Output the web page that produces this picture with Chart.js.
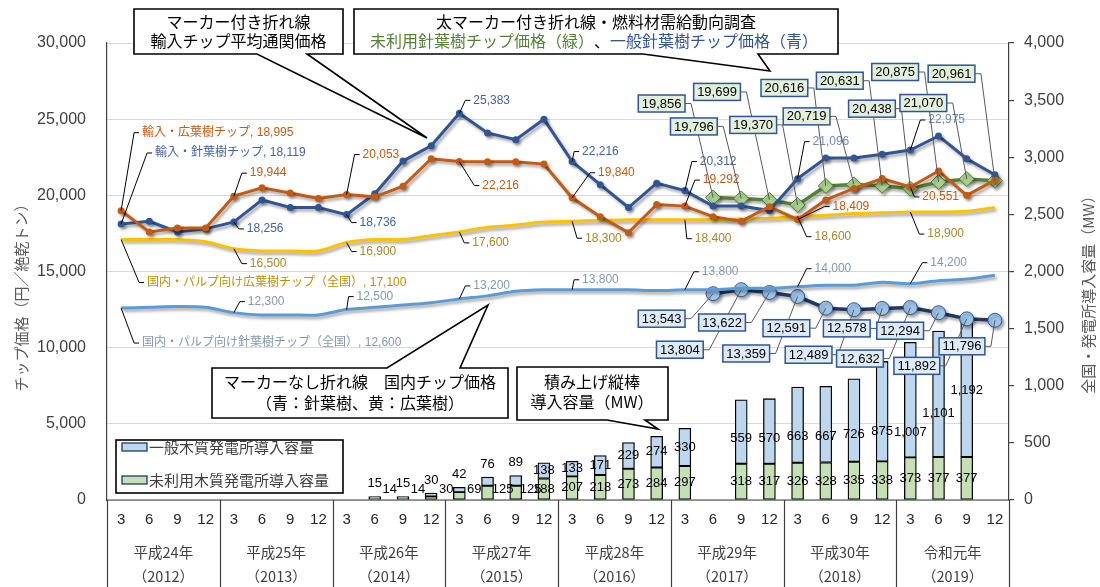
<!DOCTYPE html>
<html><head><meta charset="utf-8">
<script src="https://cdn.jsdelivr.net/npm/chart.js@4.4.0/dist/chart.umd.min.js"></script>
<style>html,body{margin:0;padding:0;background:#fff;}#wrap{width:1100px;height:587px;position:relative;}</style>
</head><body><div id="wrap"><canvas id="c" width="1100" height="587"></canvas></div>
<script>
// ---------------- data ----------------
const monthLabels = ['3','6','9','12','3','6','9','12','3','6','9','12','3','6','9','12','3','6','9','12','3','6','9','12','3','6','9','12','3','6','9','12'];
const yearLabels = ['平成24年','平成25年','平成26年','平成27年','平成28年','平成29年','平成30年','令和元年'];
const yearWestern = ['（2012）','（2013）','（2014）','（2015）','（2016）','（2017）','（2018）','（2019）'];
const leftTicks = [0,5000,10000,15000,20000,25000,30000];
const rightTicks = [0,500,1000,1500,2000,2500,3000,3500,4000];

const importHardwood = [18995,17600,17850,17850,19944,20500,20150,19800,20053,19900,20600,22400,22216,22200,22200,22050,19840,18600,17550,19400,19292,18600,18300,19250,18409,19700,20450,21100,20551,21600,20000,21000];
const importSoftwood = [18119,18300,17600,17800,18256,19700,19200,19200,18736,20100,22250,23250,25383,24100,23650,25000,22216,20700,19200,20800,20312,19300,19300,19000,21096,22450,22450,22700,22975,23900,22400,21350];
const domesticHardwood = [17100,17100,17100,16950,16500,16350,16350,16350,16900,17100,17100,17350,17600,17900,18050,18250,18300,18350,18400,18400,18400,18400,18450,18500,18600,18700,18800,18850,18900,18900,18950,19200];
const domesticSoftwood = [12600,12650,12700,12650,12300,12150,12150,12150,12500,12650,12800,12950,13200,13400,13700,13800,13800,13800,13800,13750,13800,13800,13900,13900,14000,14100,14100,14300,14200,14400,14500,14750];
const unusedSoftwoodPrice = [null,null,null,null,null,null,null,null,null,null,null,null,null,null,null,null,null,null,null,null,null,19856,19796,19699,19370,20616,20719,20631,20438,20875,21070,20961];
const generalSoftwoodPrice = [null,null,null,null,null,null,null,null,null,null,null,null,null,null,null,null,null,null,null,null,null,13543,13804,13622,13359,12591,12489,12578,12632,12294,11892,11796];
const capUnused = [null,null,null,null,null,null,null,null,null,14,14,30,69,125,125,188,207,218,273,284,297,null,318,317,326,328,335,338,373,377,377,null];
const capGeneral = [null,null,null,null,null,null,null,null,null,15,15,30,42,76,89,138,133,171,229,274,330,null,559,570,663,667,726,875,1007,1101,1192,null];

// ---------------- layout / style ----------------
const JP = '"Noto Sans CJK JP","Noto Sans",sans-serif';
const NUM = '"Liberation Sans","Noto Sans CJK JP",sans-serif';
const C = {orange:'#c55a11', blue:'#2f5597', yellow:'#ffc000', lblue:'#5b9bd5', green:'#548235', navy:'#1f3864'};
const fmt = v => v.toLocaleString('en-US');

// text-anchor offsets (px) from the labelled point
const lineLabels = [
 {ds:0,i:0,dx:21,dy:-78,name:'輸入・広葉樹チップ',col:'#c55a11'},
 {ds:0,i:4,dx:16,dy:-23,col:'#c55a11'},{ds:0,i:8,dx:16,dy:-40,col:'#c55a11'},{ds:0,i:12,dx:23,dy:24,col:'#c55a11'},
 {ds:0,i:16,dx:26,dy:-25,col:'#c55a11'},{ds:0,i:20,dx:18,dy:-26,col:'#c55a11'},{ds:0,i:24,dx:35,dy:-13,col:'#c55a11'},{ds:0,i:28,dx:12,dy:10,col:'#c55a11'},
 {ds:1,i:0,dx:34,dy:-71,name:'輸入・針葉樹チップ',col:'#44649f'},
 {ds:1,i:4,dx:13,dy:7,col:'#44649f'},{ds:1,i:8,dx:13,dy:8,col:'#44649f'},{ds:1,i:12,dx:14,dy:-13,col:'#44649f'},
 {ds:1,i:16,dx:10,dy:-10,col:'#44649f'},{ds:1,i:20,dx:15,dy:-29,col:'#44649f'},{ds:1,i:24,dx:15,dy:-37,col:'#6f88b8'},{ds:1,i:28,dx:18,dy:-30,col:'#6f88b8'},
 {ds:2,i:0,dx:26,dy:43,name:'国内・パルプ向け広葉樹チップ（全国）',col:'#bf9000'},
 {ds:2,i:4,dx:16,dy:15,col:'#a8862a'},{ds:2,i:8,dx:13,dy:9,col:'#a8862a'},{ds:2,i:12,dx:13,dy:11,col:'#a8862a'},
 {ds:2,i:16,dx:13,dy:17,col:'#a8862a'},{ds:2,i:20,dx:10,dy:19,col:'#a8862a'},{ds:2,i:24,dx:17,dy:20,col:'#a8862a'},{ds:2,i:28,dx:17,dy:22,col:'#a8862a'},
 {ds:3,i:0,dx:21,dy:35,name:'国内・パルプ向け針葉樹チップ（全国）',col:'#8497b0'},
 {ds:3,i:4,dx:14,dy:-11,col:'#8497b0'},{ds:3,i:8,dx:10,dy:-13,col:'#8497b0'},{ds:3,i:12,dx:14,dy:-13,col:'#8497b0'},
 {ds:3,i:16,dx:10,dy:-10,col:'#8497b0'},{ds:3,i:20,dx:17,dy:-18,col:'#8497b0'},{ds:3,i:24,dx:17,dy:-18,col:'#8497b0'},{ds:3,i:28,dx:20,dy:-21,col:'#8497b0'}
];
// box label offsets: [box right edge - x, box centre - y]
const greenBoxes = {21:[-28,-94],22:[-24,-72],23:[-29,-108],24:[-21,-80],25:[-18,-98],26:[-24,-68],27:[-19,-105],28:[-15,-80],29:[-20,-110],30:[-20,-76],31:[-20,-107]};
const navyBoxes = {21:[-28,25],22:[-38,60],23:[-24,30],24:[-28,57],25:[-16,20],26:[-22,45],27:[-12,20],28:[-27,51],29:[-15,18],30:[-27,47],31:[-10,26]};
// label centre (MW) for moved general-capacity labels
const generalLabelAt = {22:535,23:535,24:553,25:553,26:570,27:596,28:588,29:762,30:962};

function callout(ctx, x1,y1,x2,y2, side, b1,b2, tx,ty){
  ctx.save();
  ctx.beginPath();
  if(side==='bottom'){
    ctx.moveTo(x1,y1);ctx.lineTo(x2,y1);ctx.lineTo(x2,y2);ctx.lineTo(b2,y2);ctx.lineTo(tx,ty);ctx.lineTo(b1,y2);ctx.lineTo(x1,y2);
  } else {
    ctx.moveTo(x1,y1);ctx.lineTo(b1,y1);ctx.lineTo(tx,ty);ctx.lineTo(b2,y1);ctx.lineTo(x2,y1);ctx.lineTo(x2,y2);ctx.lineTo(x1,y2);
  }
  ctx.closePath();
  ctx.fillStyle='#fff';ctx.fill();
  ctx.strokeStyle='#000';ctx.lineWidth=1.6;ctx.stroke();
  ctx.restore();
}
function centeredRuns(ctx, runs, cx, y){
  let w=0; runs.forEach(r=>{w+=ctx.measureText(r[0]).width;});
  let x=cx-w/2; ctx.textAlign='left';
  runs.forEach(r=>{ctx.fillStyle=r[1];ctx.fillText(r[0],x,y);x+=ctx.measureText(r[0]).width;});
}

const shadowPlugin = {
  id:'shadow',
  beforeDatasetDraw(chart,args){ if(args.meta.type==='line'){const c=chart.ctx;c.save();c.shadowColor='rgba(0,0,0,0.35)';c.shadowBlur=3;c.shadowOffsetX=2;c.shadowOffsetY=2.5;} },
  afterDatasetDraw(chart,args){ if(args.meta.type==='line'){chart.ctx.restore();} }
};

const decoPlugin = {
  id:'deco',
  afterDatasetsDraw(chart){
    const ctx=chart.ctx, ca=chart.chartArea, xs=chart.scales.x, y2=chart.scales.y2;
    ctx.save();
    // bar labels
    const mg=chart.getDatasetMeta(6), mb=chart.getDatasetMeta(7);
    ctx.font='13px '+NUM; ctx.fillStyle='#000'; ctx.textBaseline='middle'; ctx.textAlign='center';
    capUnused.forEach((v,i)=>{
      if(v==null) return;
      const g=mg.data[i], b=mb.data[i];
      const gh=g.base-g.y;
      if(gh<14) ctx.fillText(fmt(v), g.x+15, g.base-10); else ctx.fillText(fmt(v), g.x, (g.y+g.base)/2);
      const bv=capGeneral[i]; const bh=b.base-b.y;
      let by;
      if(generalLabelAt[i]!==undefined) by=y2.getPixelForValue(generalLabelAt[i]);
      else if(bh<14) by=b.y-13; else by=(b.y+b.base)/2;
      ctx.fillText(fmt(bv), b.x, by);
    });
    // line labels
    ctx.textAlign='left'; ctx.lineWidth=1; ctx.strokeStyle='#000';
    lineLabels.forEach(L=>{
      const p=chart.getDatasetMeta(L.ds).data[L.i]; const v=chart.data.datasets[L.ds].data[L.i];
      const tx=p.x+L.dx, ty=p.y+L.dy;
      ctx.beginPath();ctx.moveTo(p.x,p.y);ctx.lineTo(tx-8,ty);ctx.lineTo(tx-3,ty);ctx.stroke();
      ctx.font='12px '+NUM; ctx.fillStyle=L.col;
      ctx.fillText((L.name?L.name+', ':'')+fmt(v), tx, ty);
    });
    // box labels
    const boxSets=[[4,greenBoxes,'#e2efda'],[5,navyBoxes,'#deebf7']];
    ctx.font='13px '+NUM;
    boxSets.forEach(([ds,lay,fill])=>{
      const meta=chart.getDatasetMeta(ds), data=chart.data.datasets[ds].data;
      Object.keys(lay).forEach(k=>{
        const i=+k,p=meta.data[i];
        const bx2=p.x+lay[k][0],cy=p.y+lay[k][1];
        ctx.beginPath();ctx.moveTo(bx2,cy);ctx.lineTo(bx2+6,cy);ctx.lineTo(p.x,p.y);
        ctx.strokeStyle='#595959';ctx.lineWidth=1;ctx.stroke();
      });
      Object.keys(lay).forEach(k=>{
        const i=+k,p=meta.data[i],t=fmt(data[i]);
        const w=ctx.measureText(t).width+7,h=17;
        const bx2=p.x+lay[k][0],cy=p.y+lay[k][1];
        ctx.fillStyle=fill;ctx.fillRect(bx2-w,cy-h/2,w,h);
        ctx.strokeStyle='#2f5597';ctx.lineWidth=1.5;ctx.strokeRect(bx2-w,cy-h/2,w,h);
        ctx.fillStyle='#000';ctx.textAlign='center';ctx.fillText(t,bx2-w/2,cy+0.5);
      });
    });
    // callouts
    ctx.font='16px '+JP; ctx.textBaseline='middle';
    callout(ctx,134,9,343,54,'bottom',257,307,427,138);
    ctx.fillStyle='#000';ctx.textAlign='center';
    ctx.fillText('マーカー付き折れ線',238.5,22);ctx.fillText('輸入チップ平均通関価格',238.5,41);
    callout(ctx,354,9,838,54,'bottom',643,758,770,71);
    centeredRuns(ctx,[['太マーカー付き折れ線・燃料材需給動向調査','#000']],596,22);
    centeredRuns(ctx,[['未利用針葉樹チップ価格（緑）','#548235'],['、','#000'],['一般針葉樹チップ価格（青）','#2f5597']],594,41);
    callout(ctx,212,368,508,418,'top',387,460,488,305);
    ctx.fillStyle='#000';ctx.textAlign='center';
    ctx.fillText('マーカーなし折れ線　国内チップ価格',360,382);ctx.fillText('（青：針葉樹、黄：広葉樹）',360,403);
    callout(ctx,517,367,668,420,'bottom',607,645,658,429);
    ctx.fillStyle='#000';ctx.textAlign='center';
    ctx.fillText('積み上げ縦棒',592,382);ctx.fillText('導入容量（MW）',592,402);
    // legend
    ctx.fillStyle='#fff';ctx.fillRect(116,440,227,53);ctx.strokeStyle='#000';ctx.lineWidth=1.6;ctx.strokeRect(116,440,227,53);
    [['一般木質発電所導入容量','#bdd7ee',447],['未利用木質発電所導入容量','#c5e0b4',480]].forEach(([t,c,y])=>{
      ctx.fillStyle=c;ctx.fillRect(122,y-4,25,8);ctx.strokeStyle='#1f3864';ctx.lineWidth=1.3;ctx.strokeRect(122,y-4,25,8);
      ctx.font='15px '+JP;ctx.fillStyle='#404040';ctx.textAlign='left';ctx.fillText(t,149,y);
    });
    ctx.restore();
  },
  afterDraw(chart){
    const ctx=chart.ctx, ca=chart.chartArea, xs=chart.scales.x;
    ctx.save();
    ctx.strokeStyle='#404040';ctx.lineWidth=1.2;
    ctx.beginPath();ctx.moveTo(ca.left,ca.bottom);ctx.lineTo(ca.right,ca.bottom);ctx.stroke();
    const bounds=[];
    for(let k=0;k<=8;k++){
      let x;
      if(k===0) x=ca.left; else if(k===8) x=ca.right;
      else x=(xs.getPixelForValue(4*k-1)+xs.getPixelForValue(4*k))/2;
      bounds.push(x);
      ctx.beginPath();ctx.moveTo(Math.round(x)+0.5,ca.bottom);ctx.lineTo(Math.round(x)+0.5,587);ctx.stroke();
    }
    ctx.textAlign='center';ctx.textBaseline='middle';ctx.fillStyle='#262626';
    ctx.font='15px '+NUM;
    monthLabels.forEach((m,i)=>ctx.fillText(m,xs.getPixelForValue(i),520));
    ctx.font='14.5px '+JP;ctx.fillStyle='#404040';
    yearLabels.forEach((t,k)=>{const cx=(bounds[k]+bounds[k+1])/2;ctx.fillText(t,cx,552);ctx.fillText(yearWestern[k],cx,576);});
    // axis titles
    ctx.font='15px '+JP;ctx.fillStyle='#595959';
    ctx.save();ctx.translate(21,294);ctx.rotate(-Math.PI/2);ctx.fillText('チップ価格（円／絶乾トン）',0,0);ctx.restore();
    ctx.save();ctx.translate(1088,291);ctx.rotate(-Math.PI/2);ctx.fillText('全国・発電所導入容量（MW）',0,0);ctx.restore();
    ctx.restore();
  }
};

const lineBase = {type:'line', yAxisID:'y', order:0, fill:false, spanGaps:false};
new Chart(document.getElementById('c'), {
  type:'bar',
  data:{
    labels: monthLabels,
    datasets:[
      {...lineBase, label:'輸入・広葉樹チップ', data:importHardwood, borderColor:C.orange, backgroundColor:C.orange, borderWidth:3, pointRadius:3.5, pointBorderWidth:0, tension:0},
      {...lineBase, label:'輸入・針葉樹チップ', data:importSoftwood, borderColor:C.blue, backgroundColor:C.blue, borderWidth:3, pointRadius:3.5, pointBorderWidth:0, tension:0},
      {...lineBase, label:'国内・パルプ向け広葉樹チップ（全国）', data:domesticHardwood, borderColor:C.yellow, borderWidth:3, pointRadius:0, tension:0.3},
      {...lineBase, label:'国内・パルプ向け針葉樹チップ（全国）', data:domesticSoftwood, borderColor:C.lblue, borderWidth:3, pointRadius:0, tension:0.3},
      {...lineBase, label:'未利用針葉樹チップ価格', data:unusedSoftwoodPrice, borderColor:C.green, borderWidth:3.5, pointStyle:'rectRot', pointRadius:7.5, pointBackgroundColor:'#a9d18e', pointBorderColor:C.green, pointBorderWidth:1, tension:0},
      {...lineBase, label:'一般針葉樹チップ価格', data:generalSoftwoodPrice, borderColor:C.navy, borderWidth:3.5, pointStyle:'circle', pointRadius:7, pointBackgroundColor:'#9dc3e6', pointBorderColor:'#2f5597', pointBorderWidth:1, tension:0},
      {type:'bar', label:'未利用木質発電所導入容量', data:capUnused, yAxisID:'y2', stack:'cap', order:10, backgroundColor:'#c5e0b4', borderColor:'#000', borderWidth:1.3, borderSkipped:false, barThickness:12},
      {type:'bar', label:'一般木質発電所導入容量', data:capGeneral, yAxisID:'y2', stack:'cap', order:10, backgroundColor:'#bdd7ee', borderColor:'#000', borderWidth:1.3, borderSkipped:false, barThickness:12}
    ]
  },
  options:{
    responsive:false, animation:false, devicePixelRatio:1,
    layout:{padding:{left:0,right:0,top:43,bottom:87}},
    plugins:{legend:{display:false}, tooltip:{enabled:false}},
    scales:{
      x:{display:false, offset:true},
      y:{position:'left', min:0, max:30000,
         afterBuildTicks(s){s.ticks=leftTicks.map(v=>({value:v}));},
         ticks:{callback:v=>fmt(v), color:'#404040', font:{size:16,family:NUM}, padding:21},
         grid:{color:'#d9d9d9', lineWidth:1, drawTicks:false},
         border:{color:'#404040', width:1.2},
         afterFit(s){s.width=107;}},
      y2:{position:'right', min:0, max:4000, stacked:true,
         afterBuildTicks(s){s.ticks=rightTicks.map(v=>({value:v}));},
         ticks:{callback:v=>fmt(v), color:'#404040', font:{size:16,family:NUM}, padding:10},
         grid:{drawOnChartArea:false, drawTicks:true, tickLength:5, color:'#404040', lineWidth:1.2},
         border:{color:'#404040', width:1.2},
         afterFit(s){s.width=91;}}
    }
  },
  plugins:[shadowPlugin, decoPlugin]
});
</script></body></html>
